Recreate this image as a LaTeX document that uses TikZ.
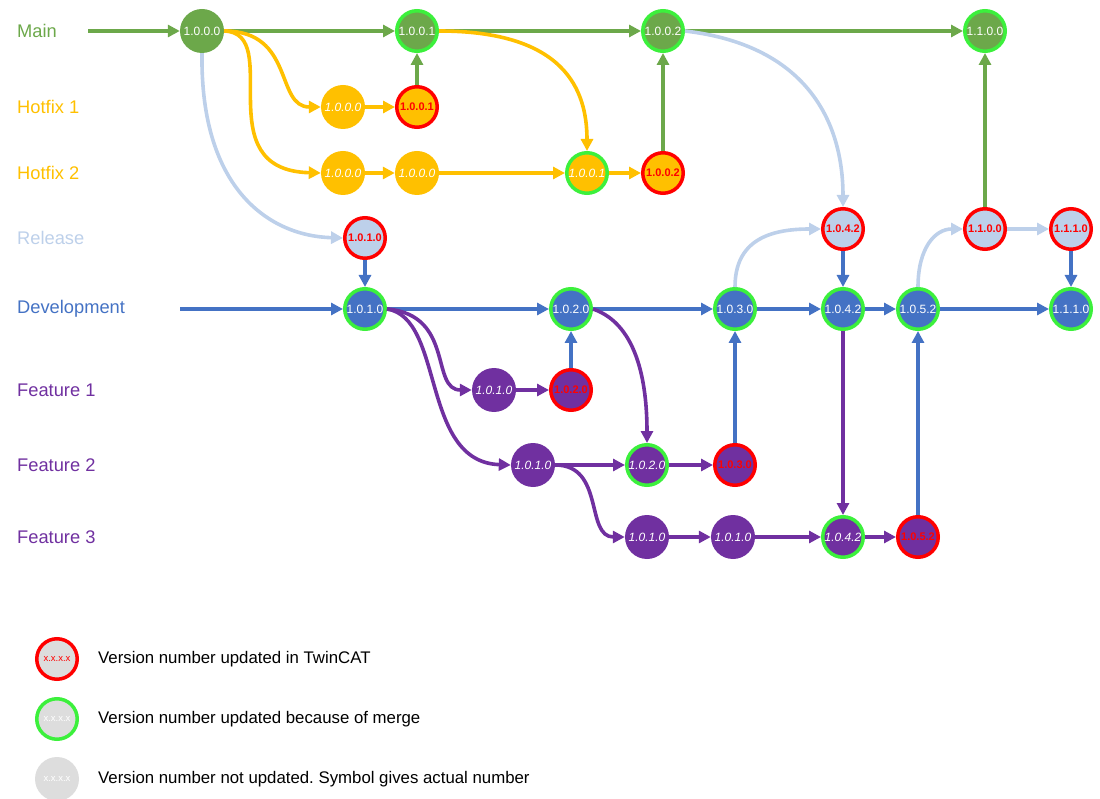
\documentclass[tikz,border=0pt]{standalone}
\usepackage{fontspec}
\setmainfont{Liberation Sans}
\usetikzlibrary{arrows.meta}
\frenchspacing
\definecolor{cmain}{HTML}{6CA84A}
\definecolor{chot}{HTML}{FFC000}
\definecolor{crel}{HTML}{BDD0EA}
\definecolor{cdev}{HTML}{4472C4}
\definecolor{cfeat}{HTML}{7030A0}
\definecolor{cred}{HTML}{FF0000}
\definecolor{cmerge}{HTML}{3CF03C}
\definecolor{cgray}{HTML}{DDDDDD}
\tikzset{
  ver/.style={circle, inner sep=0pt, text=white, font=\fontsize{12}{13}\selectfont},
  plainv/.style={ver, fill=#1, minimum size=44pt},
  mergev/.style={ver, fill=#1, draw=cmerge, line width=3.5pt, minimum size=40.5pt},
  redv/.style={ver, fill=#1, draw=cred, line width=3.5pt, minimum size=40.5pt, text=cred,
    font=\fontsize{11}{12}\selectfont\bfseries},
  ital/.style={font=\fontsize{12}{13}\selectfont\itshape},
  branch/.style={anchor=west, inner sep=0pt, font=\fontsize{18.3}{20}\selectfont, text=#1},
  link/.style={draw=#1, line width=3.6pt, -{Triangle[length=12pt,width=12pt]}},
  legtext/.style={anchor=west, inner sep=0pt, font=\fontsize{16.8}{18}\selectfont},
}
\begin{document}
\begin{tikzpicture}[x=1pt,y=-1pt]
\useasboundingbox (0,0) rectangle (1100,799);

% branch names
\node[branch=cmain] (lmain) at (17,31) {Main};
\node[branch=chot] (lh1) at (17,107) {Hotfix 1};
\node[branch=chot] (lh2) at (17,173) {Hotfix 2};
\node[branch=crel] (lrel) at (17,238) {Release};
\node[branch=cdev] (ldev) at (17,309) {Development};
\node[branch=cfeat] (lf1) at (17,390) {Feature 1};
\node[branch=cfeat] (lf2) at (17,465) {Feature 2};
\node[branch=cfeat] (lf3) at (17,537) {Feature 3};

\coordinate (mainstart) at (88,31);
\coordinate (devstart) at (180,309);

% Main
\node[plainv=cmain] (m0) at (202,31) {1.0.0.0};
\node[mergev=cmain] (m1) at (417,31) {1.0.0.1};
\node[mergev=cmain] (m2) at (663,31) {1.0.0.2};
\node[mergev=cmain] (m3) at (985,31) {1.1.0.0};

% Hotfix 1
\node[plainv=chot, ital] (h1a) at (343,107) {1.0.0.0};
\node[redv=chot] (h1b) at (417,107) {1.0.0.1};

% Hotfix 2
\node[plainv=chot, ital] (h2a) at (343,173) {1.0.0.0};
\node[plainv=chot, ital] (h2b) at (417,173) {1.0.0.0};
\node[mergev=chot, ital] (h2c) at (587,173) {1.0.0.1};
\node[redv=chot] (h2d) at (663,173) {1.0.0.2};

% Release
\node[redv=crel] (r1) at (365,238) {1.0.1.0};
\node[redv=crel] (r2) at (843,229) {1.0.4.2};
\node[redv=crel] (r3) at (985,229) {1.1.0.0};
\node[redv=crel] (r4) at (1071,229) {1.1.1.0};

% Development
\node[mergev=cdev] (d1) at (365,309) {1.0.1.0};
\node[mergev=cdev] (d2) at (571,309) {1.0.2.0};
\node[mergev=cdev] (d3) at (735,309) {1.0.3.0};
\node[mergev=cdev] (d4) at (843,309) {1.0.4.2};
\node[mergev=cdev] (d5) at (918,309) {1.0.5.2};
\node[mergev=cdev] (d6) at (1071,309) {1.1.1.0};

% Features
\node[plainv=cfeat, ital] (f1a) at (494,390) {1.0.1.0};
\node[redv=cfeat] (f1b) at (571,390) {1.0.2.0};
\node[plainv=cfeat, ital] (f2a) at (533,465) {1.0.1.0};
\node[mergev=cfeat, ital] (f2b) at (647,465) {1.0.2.0};
\node[redv=cfeat] (f2c) at (735,465) {1.0.3.0};
\node[plainv=cfeat, ital] (f3a) at (647,537) {1.0.1.0};
\node[plainv=cfeat, ital] (f3b) at (733,537) {1.0.1.0};
\node[mergev=cfeat, ital] (f3c) at (843,537) {1.0.4.2};
\node[redv=cfeat] (f3d) at (918,537) {1.0.5.2};

% green connectors
\draw[link=cmain] (mainstart) -- (m0);
\draw[link=cmain] (m0) -- (m1);
\draw[link=cmain] (m1) -- (m2);
\draw[link=cmain] (m2) -- (m3);
\draw[link=cmain] (h1b) -- (m1);
\draw[link=cmain] (h2d) -- (m2);
\draw[link=cmain] (r3) -- (m3);

% yellow connectors
\draw[link=chot] (m0.east) .. controls (295,31) and (275,107) .. (h1a.west);
\draw[link=chot] (m0.east) .. controls (285,33) and (205,170) .. (h2a.west);
\draw[link=chot] (m1.east) .. controls (565,31) and (587,90) .. (h2c.north);
\draw[link=chot] (h1a) -- (h1b);
\draw[link=chot] (h2a) -- (h2b);
\draw[link=chot] (h2b) -- (h2c);
\draw[link=chot] (h2c) -- (h2d);

% light blue connectors
\draw[link=crel] (m0.south) .. controls (200,190) and (270,236) .. (r1.west);
\draw[link=crel] (m2.east) .. controls (805,45) and (843,120) .. (r2.north);
\draw[link=crel] (d3.north) .. controls (735,240) and (770,229) .. (r2.west);
\draw[link=crel] (d5.north) .. controls (918,248) and (935,229) .. (r3.west);
\draw[link=crel] (r3) -- (r4);

% blue connectors
\draw[link=cdev] (devstart) -- (d1);
\draw[link=cdev] (r1) -- (d1);
\draw[link=cdev] (d1) -- (d2);
\draw[link=cdev] (d2) -- (d3);
\draw[link=cdev] (d3) -- (d4);
\draw[link=cdev] (d4) -- (d5);
\draw[link=cdev] (d5) -- (d6);
\draw[link=cdev] (r2) -- (d4);
\draw[link=cdev] (r4) -- (d6);
\draw[link=cdev] (f1b) -- (d2);
\draw[link=cdev] (f2c) -- (d3);
\draw[link=cdev] (f3d) -- (d5);

% purple connectors
\draw[link=cfeat] (d1.east) .. controls (455,315) and (430,390) .. (f1a.west);
\draw[link=cfeat] (d1.east) .. controls (445,318) and (420,462) .. (f2a.west);
\draw[link=cfeat] (d2.east) .. controls (640,325) and (647,390) .. (f2b.north);
\draw[link=cfeat] (f2a.east) .. controls (605,465) and (585,537) .. (f3a.west);
\draw[link=cfeat] (f1a) -- (f1b);
\draw[link=cfeat] (f2a) -- (f2b);
\draw[link=cfeat] (f2b) -- (f2c);
\draw[link=cfeat] (f3a) -- (f3b);
\draw[link=cfeat] (f3b) -- (f3c);
\draw[link=cfeat] (f3c) -- (f3d);
\draw[link=cfeat] (d4) -- (f3c);

% key
\node[redv=cgray, font=\fontsize{9.5}{10}\selectfont] (k1) at (57,659) {x.x.x.x};
\node[mergev=cgray, font=\fontsize{9.5}{10}\selectfont] (k2) at (57,719) {x.x.x.x};
\node[plainv=cgray, font=\fontsize{9.5}{10}\selectfont] (k3) at (57,779) {x.x.x.x};
\node[legtext] (t1) at (98,659) {Version number updated in TwinCAT};
\node[legtext] (t2) at (98,719) {Version number updated because of merge};
\node[legtext] (t3) at (98,779) {Version number not updated. Symbol gives actual number};
\end{tikzpicture}
\end{document}
